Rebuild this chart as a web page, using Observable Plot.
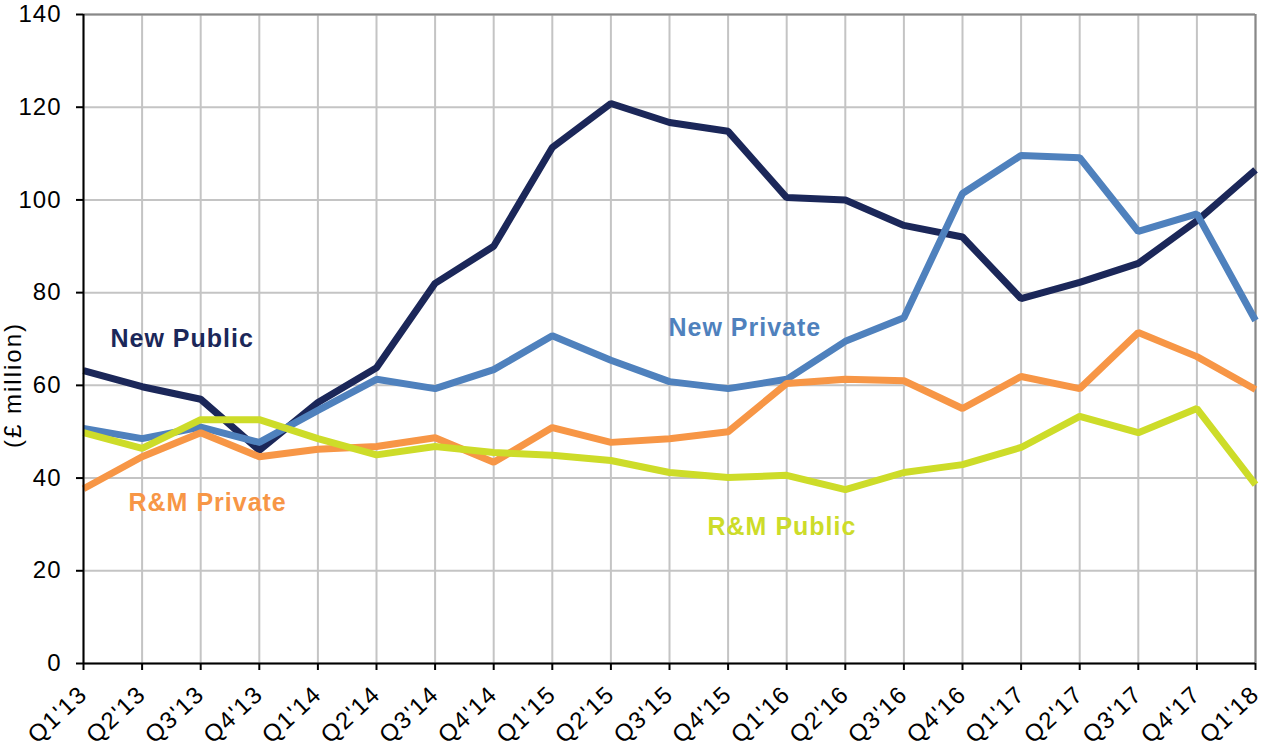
<!DOCTYPE html>
<html>
<head>
<meta charset="utf-8">
<script src="https://cdn.jsdelivr.net/npm/d3@7"></script>
<script src="https://cdn.jsdelivr.net/npm/@observablehq/plot@0.6"></script>
<style>
  html, body { margin: 0; padding: 0; background: #fff; overflow: hidden; }
  #chart { width: 1261px; height: 747px; }
  #chart svg { display: block; }
</style>
</head>
<body>
<div id="chart"></div>
<script>
const quarters = ["Q1'13","Q2'13","Q3'13","Q4'13","Q1'14","Q2'14","Q3'14","Q4'14","Q1'15","Q2'15","Q3'15","Q4'15","Q1'16","Q2'16","Q3'16","Q4'16","Q1'17","Q2'17","Q3'17","Q4'17","Q1'18"];
const newPublic  = [63.2,59.7,57.0,46.0,56.3,63.8,82.0,90.0,111.3,120.8,116.7,114.8,100.5,100.0,94.5,92.0,78.7,82.2,86.3,95.5,106.5];
const newPrivate = [50.7,48.5,51.0,47.7,54.6,61.3,59.3,63.4,70.7,65.4,60.8,59.3,61.3,69.5,74.6,101.4,109.6,109.1,93.2,97.0,74.0];
const rmPrivate  = [37.7,44.6,49.8,44.6,46.2,46.8,48.7,43.4,50.9,47.7,48.5,50.0,60.4,61.3,61.0,55.0,61.9,59.3,71.4,66.2,59.1];
const rmPublic   = [49.8,46.4,52.6,52.6,48.5,45.0,46.8,45.5,44.9,43.8,41.2,40.1,40.6,37.5,41.2,42.9,46.6,53.3,49.8,55.0,38.6];
const seriesNames = ["New Public","New Private","R&M Private","R&M Public"];
const seriesColors = ["#1b2759","#4f81bd","#f79646","#cddc29"];
const yTicks = [0,20,40,60,80,100,120,140];
const yLabel = "(£ million)";
// series label anchors (category, value) and horizontal nudges
const labelCats = ["Q1'13","Q3'15","Q1'13","Q3'15"];
const labelVals = [69.9,72.3,34.7,29.5];
const labelDx = [27,-1,45,38];

const seriesValues = [newPublic, newPrivate, rmPrivate, rmPublic];
const rows = [];
seriesNames.forEach((name, i) => {
  quarters.forEach((q, j) => rows.push({series: name, quarter: q, value: seriesValues[i][j]}));
});
const labelMarks = seriesNames.map((name, i) =>
  Plot.text([{name, quarter: labelCats[i], value: labelVals[i]}], {
    x: "quarter", y: "value", text: "name", dx: labelDx[i], fill: seriesColors[i],
    textAnchor: "start", fontSize: 25, fontWeight: "bold", className: "series-label"
  })
);

const chart = Plot.plot({
  width: 1261,
  height: 747,
  marginLeft: 83,
  marginRight: 6,
  marginTop: 14,
  marginBottom: 84,
  style: {fontFamily: "'Liberation Sans', Arial, sans-serif", fontSize: "24px", color: "#000", background: "#fff"},
  x: {type: "point", domain: quarters, padding: 0, round: false},
  y: {domain: [0, 140]},
  color: {domain: seriesNames, range: seriesColors},
  marks: [
    Plot.gridY(yTicks, {stroke: "#c4c4c4", strokeOpacity: 1, strokeWidth: 2}),
    Plot.gridX(quarters, {stroke: "#c4c4c4", strokeOpacity: 1, strokeWidth: 2}),
    Plot.ruleY([140], {stroke: "#888", strokeWidth: 2}),
    Plot.ruleX([quarters[quarters.length - 1]], {stroke: "#888", strokeWidth: 2}),
    Plot.line(rows, {x: "quarter", y: "value", z: "series", stroke: "series", strokeWidth: 7, strokeLinejoin: "miter", strokeLinecap: "butt"}),
    Plot.ruleX([quarters[0]], {stroke: "#000", strokeWidth: 2}),
    Plot.ruleY([0], {stroke: "#000", strokeWidth: 2}),
    Plot.axisY(yTicks, {tickSize: 7, tickPadding: 15, fontSize: 24, label: null, stroke: "#000", strokeWidth: 2}),
    Plot.axisX(quarters, {tickSize: 7, tickPadding: 20, tickRotate: -43, fontSize: 24, label: null, stroke: "#000", strokeWidth: 2}),
    ...labelMarks
  ]
});

document.getElementById("chart").appendChild(chart);
const svg = d3.select(chart);
// letter spacing to match the wider reference typography
svg.selectAll('g[aria-label="y-axis tick label"] text').attr("letter-spacing", 1);
svg.selectAll('g[aria-label="x-axis tick label"] text').attr("letter-spacing", 1.5);
svg.selectAll('g[aria-label="text"] text').attr("letter-spacing", 1);
svg.append("text")
  .attr("transform", "translate(21,385) rotate(-90)")
  .attr("text-anchor", "middle")
  .attr("font-size", 24)
  .attr("letter-spacing", 2)
  .attr("fill", "#000")
  .text(yLabel);
</script>
</body>
</html>
